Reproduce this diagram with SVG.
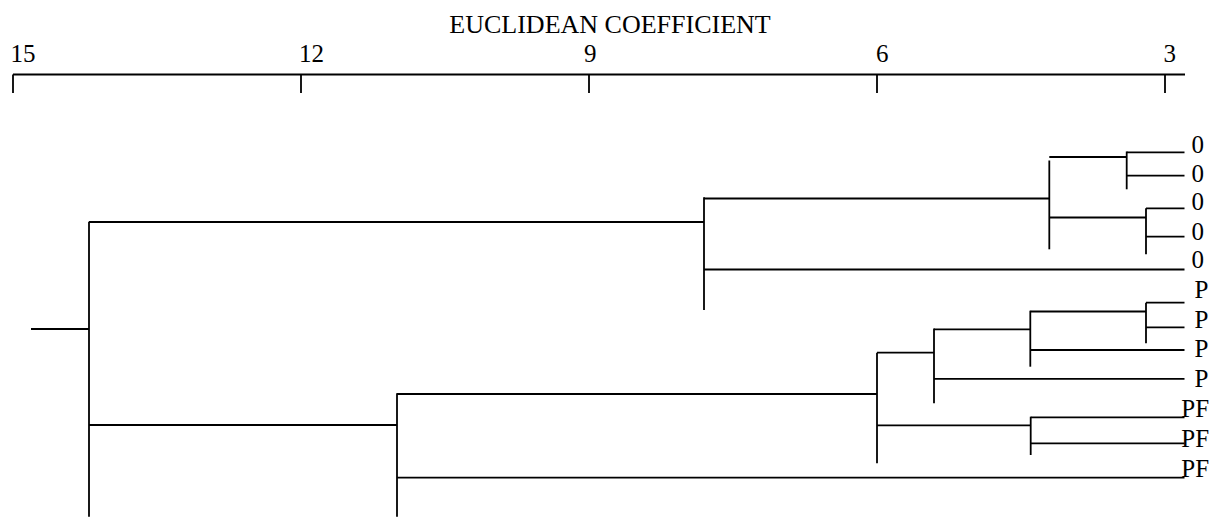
<svg xmlns="http://www.w3.org/2000/svg" width="1211" height="518" viewBox="0 0 1211 518">
<style>
.ln{stroke:#000;stroke-width:1.8;fill:none;stroke-linecap:butt}
.t{font-family:"Liberation Serif","Times New Roman",serif;font-size:25px;fill:#000}
.ttl{font-family:"Liberation Serif","Times New Roman",serif;font-size:26px;fill:#000}
</style>
<rect width="1211" height="518" fill="#fff"/>
<g id="axis">
<text class="ttl" x="610" y="33" text-anchor="middle">EUCLIDEAN COEFFICIENT</text>
<text class="t" x="10.5" y="62">15</text>
<text class="t" x="299" y="62">12</text>
<text class="t" x="584" y="62">9</text>
<text class="t" x="876" y="62">6</text>
<text class="t" x="1163.5" y="62">3</text>
<path class="ln" d="M13 74.5H1185M13 74.5V93M301 74.5V93M589 74.5V93M877 74.5V93M1165 74.5V93"/>
</g>
<g id="leaf1"><text class="t" x="1191.4" y="152.7">0</text></g>
<g id="leaf2"><text class="t" x="1191.4" y="181.7">0</text></g>
<g id="leaf3"><text class="t" x="1191.4" y="210">0</text></g>
<g id="leaf4"><text class="t" x="1191.4" y="240">0</text></g>
<g id="leaf5"><text class="t" x="1191.4" y="268.3">0</text></g>
<g id="leaf6"><text class="t" x="1194.6" y="298.3">P</text></g>
<g id="leaf7"><text class="t" x="1194.6" y="328.3">P</text></g>
<g id="leaf8"><text class="t" x="1194.6" y="356.7">P</text></g>
<g id="leaf9"><text class="t" x="1194.6" y="386.7">P</text></g>
<g id="leaf10"><text class="t" x="1181.3" y="416.7">PF</text></g>
<g id="leaf11"><text class="t" x="1181.3" y="446.7">PF</text></g>
<g id="leaf12"><text class="t" x="1181.3" y="476.7">PF</text></g>
<g id="connectors" class="ln">
<line x1="31" y1="329" x2="89" y2="329"/>
<line x1="89" y1="221.7" x2="89" y2="516.7"/>
<line x1="89" y1="222" x2="704" y2="222"/>
<line x1="89" y1="425" x2="397" y2="425"/>
<line x1="704" y1="197.3" x2="704" y2="310"/>
<line x1="704" y1="198.5" x2="1049.3" y2="198.5"/>
<line x1="704" y1="269.5" x2="1184.5" y2="269.5"/>
<line x1="1049.3" y1="160.5" x2="1049.3" y2="249.3"/>
<line x1="1049.3" y1="157" x2="1126.7" y2="157"/>
<line x1="1049.3" y1="217.5" x2="1146" y2="217.5"/>
<line x1="1126.7" y1="151.5" x2="1126.7" y2="189.3"/>
<line x1="1126.7" y1="152.3" x2="1184.5" y2="152.3"/>
<line x1="1126.7" y1="175.7" x2="1184.5" y2="175.7"/>
<line x1="1146" y1="208.3" x2="1146" y2="254.3"/>
<line x1="1146" y1="208.3" x2="1184.5" y2="208.3"/>
<line x1="1146" y1="236.7" x2="1184.5" y2="236.7"/>
<line x1="397" y1="393.3" x2="397" y2="516.7"/>
<line x1="397" y1="394" x2="877" y2="394"/>
<line x1="397" y1="477.7" x2="1184.5" y2="477.7"/>
<line x1="877" y1="352.7" x2="877" y2="463.3"/>
<line x1="877" y1="352.7" x2="934" y2="352.7"/>
<line x1="877" y1="425.3" x2="1030.5" y2="425.3"/>
<line x1="934" y1="328.5" x2="934" y2="403.3"/>
<line x1="934" y1="329.3" x2="1030.3" y2="329.3"/>
<line x1="934" y1="378.8" x2="1184.5" y2="378.8"/>
<line x1="1030.3" y1="310.7" x2="1030.3" y2="366.7"/>
<line x1="1030.3" y1="311.5" x2="1146" y2="311.5"/>
<line x1="1030.3" y1="350" x2="1184.5" y2="350"/>
<line x1="1146" y1="302.7" x2="1146" y2="343.3"/>
<line x1="1146" y1="302.7" x2="1184.5" y2="302.7"/>
<line x1="1146" y1="327.3" x2="1184.5" y2="327.3"/>
<line x1="1030.7" y1="416.7" x2="1030.7" y2="455"/>
<line x1="1030.7" y1="417.3" x2="1184.5" y2="417.3"/>
<line x1="1030.7" y1="443.3" x2="1184.5" y2="443.3"/>
</g>
</svg>
